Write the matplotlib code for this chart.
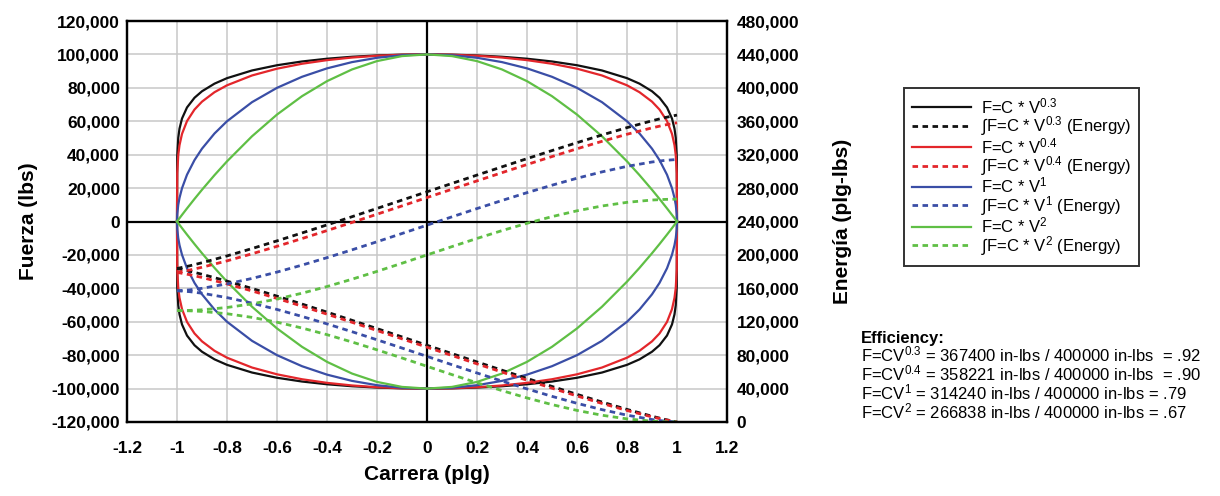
import matplotlib
matplotlib.use("Agg")
import matplotlib.pyplot as plt
from matplotlib.ticker import FuncFormatter, MultipleLocator

plt.rcParams['font.family'] = ['Liberation Sans', 'DejaVu Sans']
plt.rcParams['mathtext.fontset'] = 'custom'
plt.rcParams['mathtext.rm'] = 'Liberation Sans'
plt.rcParams['mathtext.it'] = 'Liberation Sans'
plt.rcParams['mathtext.bf'] = 'Liberation Sans:bold'

# ---- data ----
stroke = [-1, -0.999, -0.995, -0.99, -0.98, -0.96, -0.93, -0.9, -0.85, -0.8,
          -0.7, -0.6, -0.5, -0.4, -0.3, -0.2, -0.1, 0, 0.1, 0.2, 0.3, 0.4,
          0.5, 0.6, 0.7, 0.8, 0.85, 0.9, 0.93, 0.96, 0.98, 0.99, 0.995,
          0.999, 1]

force_03_up = [0, 39366, 50098, 55569, 61612, 68257, 74061, 77948, 82507, 85792,
               90393, 93525, 95776, 97419, 98595, 99390, 99849, 100000, 99849,
               99390, 98595, 97419, 95776, 93525, 90393, 85792, 82507, 77948,
               74061, 68257, 61612, 55569, 50098, 39366, 0]
force_03_dn = [0, -39366, -50098, -55569, -61612, -68257, -74061, -77948, -82507,
               -85792, -90393, -93525, -95776, -97419, -98595, -99390, -99849,
               -100000, -99849, -99390, -98595, -97419, -95776, -93525, -90393,
               -85792, -82507, -77948, -74061, -68257, -61612, -55569, -50098,
               -39366, 0]
force_04_up = [0, 28851, 39791, 45687, 52426, 60098, 67008, 71737, 77383, 81519,
               87400, 91461, 94409, 96573, 98131, 99187, 99799, 100000, 99799,
               99187, 98131, 96573, 94409, 91461, 87400, 81519, 77383, 71737,
               67008, 60098, 52426, 45687, 39791, 28851, 0]
force_04_dn = [0, -28851, -39791, -45687, -52426, -60098, -67008, -71737, -77383,
               -81519, -87400, -91461, -94409, -96573, -98131, -99187, -99799,
               -100000, -99799, -99187, -98131, -96573, -94409, -91461, -87400,
               -81519, -77383, -71737, -67008, -60098, -52426, -45687, -39791,
               -28851, 0]
force_1_up = [0, 4471, 9987, 14107, 19900, 28000, 36756, 43589, 52678, 60000,
              71414, 80000, 86603, 91652, 95394, 97980, 99499, 100000, 99499,
              97980, 95394, 91652, 86603, 80000, 71414, 60000, 52678, 43589,
              36756, 28000, 19900, 14107, 9987, 4471, 0]
force_1_dn = [0, -4471, -9987, -14107, -19900, -28000, -36756, -43589, -52678,
              -60000, -71414, -80000, -86603, -91652, -95394, -97980, -99499,
              -100000, -99499, -97980, -95394, -91652, -86603, -80000, -71414,
              -60000, -52678, -43589, -36756, -28000, -19900, -14107, -9987,
              -4471, 0]
force_2_up = [0, 200, 998, 1990, 3960, 7840, 13510, 19000, 27750, 36000,
              51000, 64000, 75000, 84000, 91000, 96000, 99000, 100000, 99000,
              96000, 91000, 84000, 75000, 64000, 51000, 36000, 27750, 19000,
              13510, 7840, 3960, 1990, 998, 200, 0]
force_2_dn = [0, -200, -998, -1990, -3960, -7840, -13510, -19000, -27750, -36000,
              -51000, -64000, -75000, -84000, -91000, -96000, -99000, -100000,
              -99000, -96000, -91000, -84000, -75000, -64000, -51000, -36000,
              -27750, -19000, -13510, -7840, -3960, -1990, -998, -200, 0]

stroke_e = [-1, -0.95, -0.9, -0.8, -0.7, -0.6, -0.5, -0.4, -0.3, -0.2, -0.1, 0,
            0.1, 0.2, 0.3, 0.4, 0.5, 0.6, 0.7, 0.8, 0.9, 0.95, 1]

# return stroke (1 -> -1) and outgoing stroke (-1 -> 1), in-lbs
energy_03_ret = [183728, 180547, 176836, 168650, 159840, 150643, 141178, 131519,
                 121718, 111819, 101857, 91864, 81872, 71910, 62010, 52210,
                 42550, 33085, 23889, 15079, 6892, 3181, 0]
energy_03_out = [183728, 186909, 190620, 198806, 207616, 216813, 226278, 235937,
                 245738, 255637, 265599, 275592, 285585, 295547, 305446, 315246,
                 324906, 334371, 343567, 352377, 360564, 364275, 367400]
energy_04_ret = [179104, 176350, 172987, 165324, 156878, 147935, 138642, 129093,
                 119357, 109492, 99542, 89552, 79562, 69613, 59747, 50012,
                 40463, 31169, 22226, 13780, 6117, 2754, 0]
energy_04_out = [179104, 181858, 185221, 192884, 201330, 210273, 219566, 229115,
                 238851, 248716, 258666, 268656, 278646, 288595, 298461, 308196,
                 317745, 327039, 335982, 344428, 352091, 355454, 358221]
energy_1_ret = [157080, 156034, 154143, 148905, 142305, 134715, 126370, 117446,
                108084, 98406, 88523, 78540, 68557, 58674, 48996, 39634, 30709,
                22365, 14775, 8175, 2936, 1046, 0]
energy_1_out = [157080, 158126, 160016, 165255, 171855, 179445, 187789, 196714,
                206076, 215754, 225637, 235620, 245603, 255486, 265164, 274526,
                283450, 291795, 299385, 305985, 311224, 313114, 314240]
energy_2_ret = [133333, 133088, 132367, 129600, 125233, 119467, 112500, 104533,
                95767, 86400, 76633, 66667, 56700, 46933, 37567, 28800, 20833,
                13867, 8100, 3733, 967, 246, 0]
energy_2_out = [133333, 133579, 134300, 137066, 141433, 147200, 154167, 162133,
                170900, 180267, 190033, 200000, 209967, 219733, 229100, 237867,
                245833, 252800, 258567, 262933, 265700, 266421, 266838]

exponents = ['0.3', '0.4', '1', '2']
colors = ['#111111', '#e3262b', '#3a4ea6', '#5fbf45']
eff_energy = ['367400', '358221', '314240', '266838']
eff_ratio = ['.92', '.90', '.79', '.67']
eff_gap = ['  ', '  ', ' ', ' ']

forces = [(force_03_up, force_03_dn), (force_04_up, force_04_dn),
          (force_1_up, force_1_dn), (force_2_up, force_2_dn)]
energies = [(energy_03_ret, energy_03_out), (energy_04_ret, energy_04_out),
            (energy_1_ret, energy_1_out), (energy_2_ret, energy_2_out)]

# ---- figure ----
fig = plt.figure(figsize=(12.2, 4.96), dpi=100)
ax = fig.add_axes([127 / 1220, 1 - 422 / 496, 600 / 1220, 401 / 496])
ax2 = ax.twinx()

ax.set_xlim(-1.2, 1.2)
ax.set_ylim(-120000, 120000)
ax2.set_ylim(0, 480000)
ax.xaxis.set_major_locator(MultipleLocator(0.2))
ax.yaxis.set_major_locator(MultipleLocator(20000))
ax2.yaxis.set_major_locator(MultipleLocator(40000))
ax.grid(True, color='#c8c8c8', lw=1.1)
ax.set_axisbelow(True)
ax.axhline(0, color='black', lw=1.6, zorder=1.5)
ax.axvline(0, color='black', lw=1.6, zorder=1.5)

ax.xaxis.set_major_formatter(FuncFormatter(lambda v, p: f'{v:g}' if abs(v) > 1e-9 else '0'))
ax.yaxis.set_major_formatter(FuncFormatter(lambda v, p: f'{v:,.0f}'))
ax2.yaxis.set_major_formatter(FuncFormatter(lambda v, p: f'{v:,.0f}'))

for a in (ax, ax2):
    a.tick_params(length=0, labelsize=12.5)
    for lbl in a.get_xticklabels() + a.get_yticklabels():
        lbl.set_fontweight('bold')
    for sp in a.spines.values():
        sp.set_linewidth(1.6)
        sp.set_color('black')
ax.tick_params(axis='x', pad=14)
ax.tick_params(axis='y', pad=5)
ax2.tick_params(axis='y', pad=7)

handles = []
labels = []
for exp, col, (up, dn), (ret, out) in zip(exponents, colors, forces, energies):
    h1, = ax.plot(stroke, up, color=col, lw=1.6, zorder=3)
    ax.plot(stroke, dn, color=col, lw=1.6, zorder=3)
    h2, = ax2.plot(stroke_e, ret, color=col, lw=2.0, ls=(0, (2, 1.6)))
    ax2.plot(stroke_e, out, color=col, lw=2.0, ls=(0, (2, 1.6)))
    handles += [h1, h2]
    labels += [f'F=C * V$^{{{exp}}}$', f'\u222bF=C * V$^{{{exp}}}$ (Energy)']

ax.set_xlabel('Carrera (plg)', fontsize=15, fontweight='bold', labelpad=6)
ax.set_ylabel('Fuerza (lbs)', fontsize=15, fontweight='bold', labelpad=10)
ax2.set_ylabel('Energía (plg-lbs)', fontsize=15, fontweight='bold', labelpad=24)

leg = fig.legend(handles, labels, loc='upper left',
                 bbox_to_anchor=(904 / 1220, 1 - 88 / 496),
                 fontsize=12, handlelength=3.5, handletextpad=0.6,
                 labelspacing=-0.12, frameon=True, fancybox=False,
                 borderpad=0.5, borderaxespad=0)
leg.get_frame().set_edgecolor('black')
leg.get_frame().set_linewidth(1.4)

fig.text(861 / 1220, 1 - 338 / 496, 'Efficiency:', fontsize=12,
         fontweight='bold', va='center', ha='left')
eff_lines = [f'F=CV$^{{{e}}}$ = {en} in-lbs / 400000 in-lbs{g}= {r}'
             for e, en, r, g in zip(exponents, eff_energy, eff_ratio, eff_gap)]
fig.text(861 / 1220, 1 - 344 / 496, '\n'.join(eff_lines), fontsize=12,
         va='top', ha='left', linespacing=0.95)

fig.savefig('out.png', dpi=100)
